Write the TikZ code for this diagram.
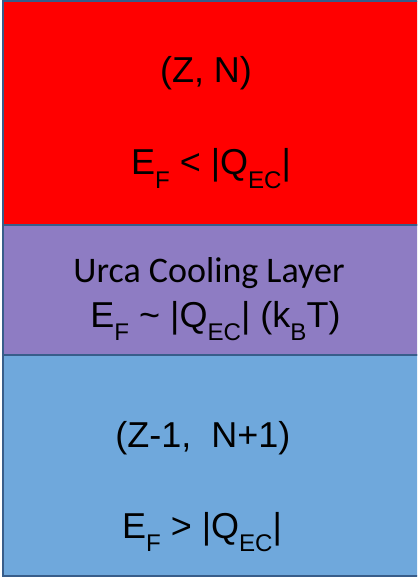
\documentclass[tikz,border=0pt]{standalone}
\usepackage{fontspec}
\setmainfont{Liberation Sans}
\newfontfamily\calibfont{Carlito}
\usepackage{graphicx}
\newcommand\dn[1]{\raisebox{-0.37em}{\scalebox{0.67}{#1}}}
\definecolor{redc}{HTML}{FF0000}
\definecolor{purplec}{HTML}{8E7CC3}
\definecolor{bluec}{HTML}{6FA8DC}
\definecolor{edgec}{HTML}{385D8A}
\begin{document}
\begin{tikzpicture}[x=1pt,y=-1pt,
  layer/.style={draw=edgec, line width=2pt},
  lbl/.style={font=\fontsize{36}{42}\selectfont, inner sep=0pt, anchor=base, text=black},
  clbl/.style={font=\calibfont\fontsize{36}{42}\selectfont, inner sep=0pt, anchor=base, text=black}]
\useasboundingbox (0,0) rectangle (417,577);
\clip (0,0) rectangle (417,577);
\filldraw[layer, fill=redc] (3,1.5) rectangle (440,224.5);
\filldraw[layer, fill=purplec] (3,224.5) rectangle (440,354.5);
\filldraw[layer, fill=bluec] (3,354.5) rectangle (440,575.5);
\node[lbl] (zn) at (206,83) {(Z, N)};
\node[lbl] (ef1) at (211,175) {E\dn{F} < |Q\dn{EC}|};
\node[clbl] (urca) at (209,282.5) {Urca Cooling Layer};
\node[lbl] (ef2) at (215.5,327) {E\dn{F} \char`~\ |Q\dn{EC}| (k\dn{B}T)};
\node[lbl] (zn1) at (203,447) {(Z-1,\ \ N+1)};
\node[lbl] (ef3) at (202,538) {E\dn{F} > |Q\dn{EC}|};
\end{tikzpicture}
\end{document}
